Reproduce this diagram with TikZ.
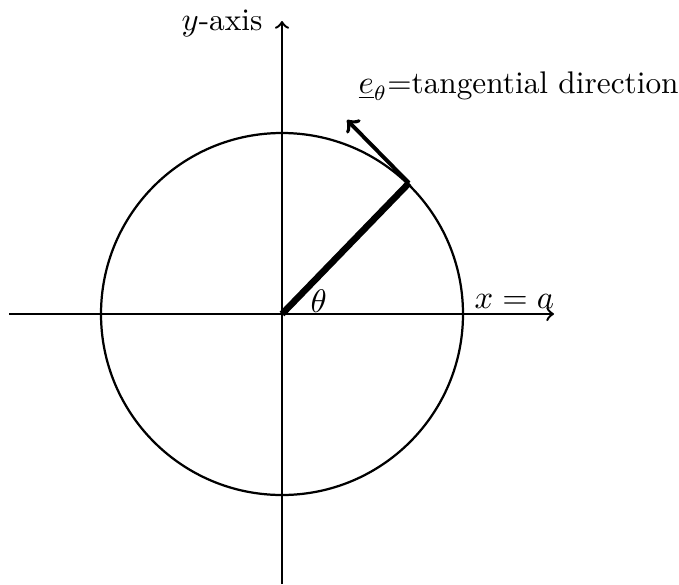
\documentclass[tikz,border=0pt]{standalone}
\begin{document}
\begin{tikzpicture}[x=0.0118cm,y=-0.0118cm,
  axis/.style={line width=0.8pt,->},
  radius line/.style={line width=2.2pt},
  tangent/.style={line width=1.3pt,->},
  lbl/.style={inner sep=0pt,font=\fontsize{10.5}{12}\selectfont}]
\useasboundingbox (0,0) rectangle (679,584);
\coordinate (O) at (282,314);
\coordinate (xl) at (9,314);
\coordinate (xr) at (554,314);
\coordinate (yb) at (282,584);
\coordinate (yt) at (282,21);
\draw[line width=0.75pt] (O) circle[radius=181];
\draw[axis] (xl) -- (xr);
\draw[axis] (yb) -- (yt);
\coordinate (P) at (409,183);
\coordinate (T) at (347,120);
\draw[radius line] (O) -- (P);
\draw[tangent] (P) -- (T);
\node[lbl,anchor=base east] (ylab) at (263,30) {$y$-axis};
\node[lbl,anchor=base west] (elab) at (358,93) {$\underline{e}_\theta$=tangential direction};
\node[lbl,anchor=base west] (th) at (310,312) {$\theta$};
\node[lbl,anchor=base west] (xa) at (474,308) {$x=a$};
\end{tikzpicture}
\end{document}
